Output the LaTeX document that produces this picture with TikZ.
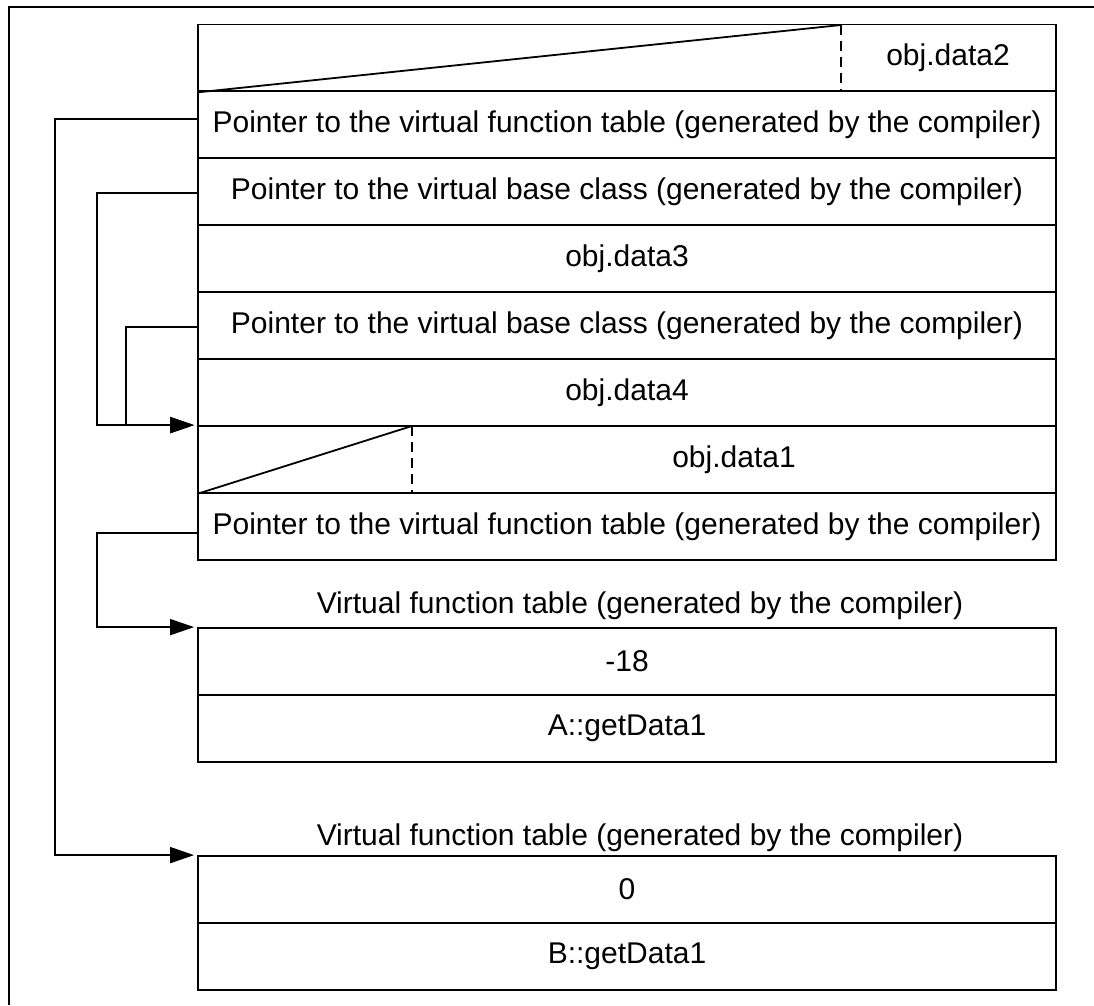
\documentclass[tikz,border=0pt]{standalone}
\usepackage{fontspec}
\setmainfont{Liberation Sans}
\usetikzlibrary{arrows.meta}
\begin{document}
\begin{tikzpicture}[x=1pt,y=-1pt,
  cell/.style={draw, line width=1.8pt, minimum width=858pt, minimum height=67pt, inner sep=0pt, font=\fontsize{30}{34}\selectfont},
  txt/.style={inner sep=0pt, font=\fontsize{30}{34}\selectfont},
  conn/.style={line width=1.8pt, -{Triangle[length=24pt,width=16pt]}, shorten >=3pt},
  plain/.style={line width=1.8pt},
  dashline/.style={line width=2.2pt, dash pattern=on 10pt off 6pt}]
\useasboundingbox (0,0) rectangle (1094,1005);
\fill[white] (0,0) rectangle (1094,1005);
\draw[line width=2.2pt] (9,1005) -- (9,7) -- (1094,7);

% object layout
\node[cell] (r1) at (627,58) {};
\node[cell] (r2) at (627,124.5) {Pointer to the virtual function table (generated by the compiler)};
\node[cell] (r3) at (627,191.5) {Pointer to the virtual base class (generated by the compiler)};
\node[cell] (r4) at (627,258.5) {obj.data3};
\node[cell] (r5) at (627,325.5) {Pointer to the virtual base class (generated by the compiler)};
\node[cell] (r6) at (627,392.5) {obj.data4};
\node[cell] (r7) at (627,459.5) {};
\node[cell] (r8) at (627,526.5) {Pointer to the virtual function table (generated by the compiler)};

\node[txt] (t1) at (948,58) {obj.data2};
\node[txt] (t7) at (734,459.5) {obj.data1};

\coordinate (d1) at (841,25);
\draw[plain] (r1.south west) -- (d1);
\draw[dashline] (d1) -- (d1 |- r1.south);
\coordinate (d7) at (412,426);
\draw[plain] (r7.south west) -- (d7);
\draw[dashline] (d7) -- (d7 |- r7.south);

% virtual function table 1
\node[txt] (l1) at (640,606) {Virtual function table (generated by the compiler)};
\node[cell] (va) at (627,661.5) {-18};
\node[cell] (vb) at (627,728.5) {A::getData1};

% virtual function table 2
\node[txt] (l2) at (640,838) {Virtual function table (generated by the compiler)};
\node[cell] (wa) at (627,889.5) {0};
\node[cell] (wb) at (627,956.5) {B::getData1};

% connectors
\draw[conn] ([yshift=5.5pt]r2.west) -- ++(-142,0) |- (wa.north west);
\draw[conn] ([yshift=-1.5pt]r3.west) -- ++(-100,0) |- (r7.north west);
\draw[conn] ([yshift=-1.5pt]r5.west) -- ++(-71,0) |- (r7.north west);
\draw[conn] ([yshift=-6.5pt]r8.west) -- ++(-100,0) |- (va.north west);
\end{tikzpicture}
\end{document}
